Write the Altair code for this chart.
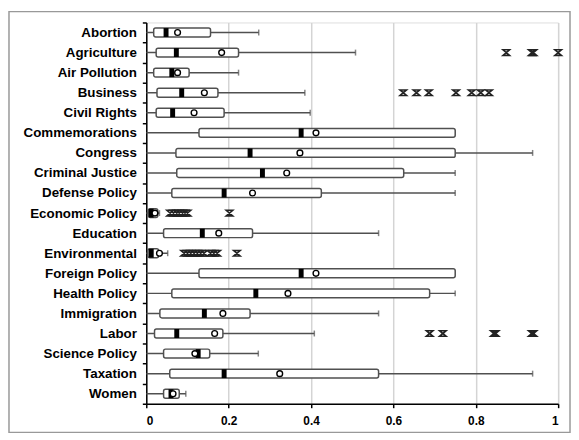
import altair as alt
import pandas as pd

categories = ["Abortion", "Agriculture", "Air Pollution", "Business", "Civil Rights",
              "Commemorations", "Congress", "Criminal Justice", "Defense Policy",
              "Economic Policy", "Education", "Environmental", "Foreign Policy",
              "Health Policy", "Immigration", "Labor", "Science Policy", "Taxation", "Women"]
whisker_low = [0.0] * 19
q1 = [0.018, 0.024, 0.018, 0.026, 0.024, 0.128, 0.072, 0.074, 0.062, 0.005,
      0.042, 0.004, 0.128, 0.062, 0.033, 0.020, 0.042, 0.057, 0.042]
median = [0.048, 0.073, 0.062, 0.086, 0.064, 0.376, 0.252, 0.282, 0.189, 0.012,
          0.136, 0.012, 0.376, 0.266, 0.141, 0.074, 0.126, 0.189, 0.060]
q3 = [0.156, 0.224, 0.104, 0.174, 0.189, 0.750, 0.750, 0.625, 0.425, 0.028,
      0.258, 0.030, 0.750, 0.688, 0.252, 0.186, 0.154, 0.564, 0.080]
mean = [0.076, 0.183, 0.076, 0.141, 0.116, 0.412, 0.373, 0.341, 0.258, 0.021,
        0.176, 0.032, 0.412, 0.344, 0.186, 0.166, 0.118, 0.324, 0.065]
whisker_high = [0.273, 0.508, 0.224, 0.385, 0.398, 0.750, 0.938, 0.750, 0.750, 0.032,
                0.564, 0.052, 0.750, 0.750, 0.564, 0.408, 0.272, 0.938, 0.096]

outlier_topic = (["Agriculture"] * 4 + ["Business"] * 7 + ["Economic Policy"] * 8
                 + ["Environmental"] * 11 + ["Labor"] * 6)
outlier_value = [0.874, 0.936, 0.940, 1.0,
                 0.624, 0.656, 0.686, 0.752, 0.790, 0.812, 0.832,
                 0.058, 0.066, 0.074, 0.080, 0.088, 0.094, 0.100, 0.202,
                 0.092, 0.100, 0.108, 0.116, 0.124, 0.132, 0.140, 0.156, 0.164, 0.172, 0.220,
                 0.688, 0.720, 0.844, 0.848, 0.936, 0.940]

x_ticks = [0, 0.2, 0.4, 0.6, 0.8, 1.0]

stats = pd.DataFrame({"topic": categories, "lo": whisker_low, "q1": q1, "med": median,
                      "q3": q3, "mean": mean, "hi": whisker_high})
outl = pd.DataFrame({"topic": outlier_topic, "v": outlier_value})

FONT = "Liberation Sans"
GRAY = "#505050"

xscale = alt.Scale(domain=[0, 1], nice=False, zero=False)
yscale = alt.Scale(domain=categories, paddingInner=0, paddingOuter=0)

xaxis = alt.Axis(values=x_ticks, format="~g", title=None, grid=True, gridColor="#d4d4d4",
                 gridWidth=1.5, domainColor="black", domainWidth=1.5, tickColor="black",
                 tickWidth=1.5, tickSize=4, labelFont=FONT, labelFontSize=12,
                 labelFontWeight="bold", labelColor="black", labelPadding=8)
yaxis = alt.Axis(title=None, tickBand="extent", grid=False, domainColor="black",
                 domainWidth=1.5, tickColor="black", tickWidth=1.5, tickSize=4,
                 labelFont=FONT, labelFontSize=13.5, labelFontWeight="bold",
                 labelColor="black", labelPadding=6)

base = alt.Chart(stats)
Y = alt.Y("topic:N", scale=yscale, axis=yaxis, sort=categories)

frame = alt.Chart(pd.DataFrame({"a": [0]})).mark_rect(
    filled=False, stroke="#999999", strokeWidth=1.5
).encode(x=alt.value(-139), x2=alt.value(429), y=alt.value(-11), y2=alt.value(415))

whisk = base.mark_rule(color=GRAY, strokeWidth=1.5).encode(
    x=alt.X("lo:Q", scale=xscale, axis=xaxis), x2="hi:Q", y=Y)
cap = base.mark_tick(color=GRAY, thickness=1.5, size=6).encode(x="hi:Q", y=Y)
box = base.mark_bar(size=9, fill="white", stroke=GRAY, strokeWidth=1.5,
                    cornerRadius=2).encode(x="q1:Q", x2="q3:Q", y=Y)
med = base.mark_tick(color="black", thickness=5, size=9, opacity=1).encode(x="med:Q", y=Y)
mn = base.mark_point(shape="circle", filled=True, fill="white", stroke="black",
                     strokeWidth=1.4, size=34, opacity=1).encode(x="mean:Q", y=Y)
out = alt.Chart(outl).mark_point(
    shape="M-1,-0.85L1,-0.85L-1,0.85L1,0.85Z", filled=False, stroke="#222222",
    strokeWidth=1.6, size=44, opacity=1
).encode(x="v:Q", y=Y)

chart = alt.layer(frame, whisk, cap, box, med, mn, out).properties(
    width=417, height=386,
    autosize=alt.AutoSizeParams(type="none"),
    padding={"left": 140, "top": 12, "right": 13, "bottom": 30},
).configure_view(stroke="#666666", strokeWidth=2).configure(background="white")

chart.save("out.html", embed_options={"renderer": "svg", "actions": False})
